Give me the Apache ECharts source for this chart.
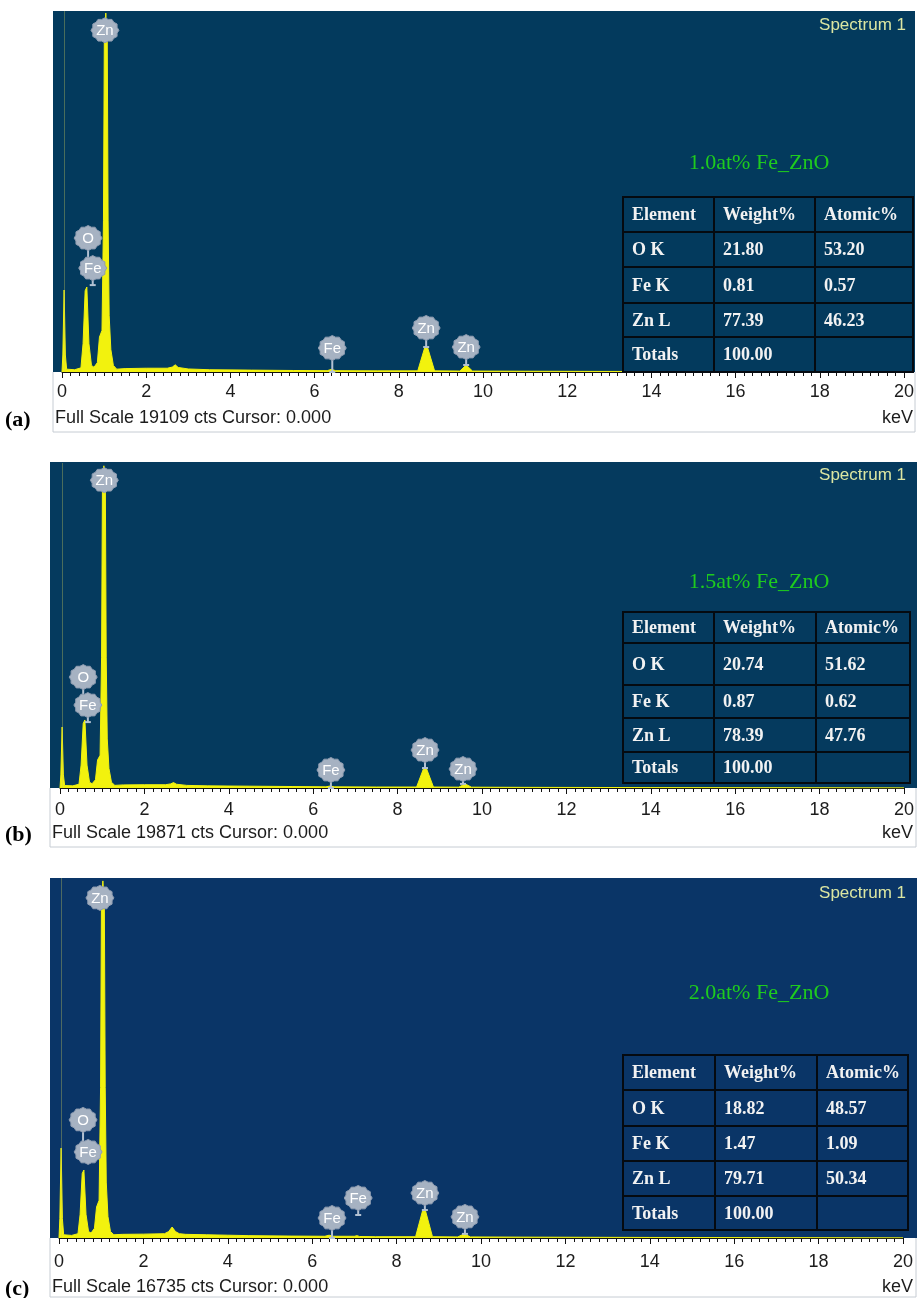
<!DOCTYPE html>
<html>
<head>
<meta charset="utf-8">
<script src="https://cdn.jsdelivr.net/npm/echarts@6/dist/echarts.min.js"></script>
<style>
  html, body { margin: 0; padding: 0; background: #ffffff; }
  #chart { width: 917px; height: 1298px; }
</style>
</head>
<body>
<div id="chart"></div>
<script>
// ---- data ----
const energyTickLabels = ['0', '2', '4', '6', '8', '10', '12', '14', '16', '18', '20'];
const panelTags = ['(a)', '(b)', '(c)'];
const sampleNames = ['1.0at% Fe_ZnO', '1.5at% Fe_ZnO', '2.0at% Fe_ZnO'];
const fullScale = [19109, 19871, 16735];

// EDS spectra: [energy keV, counts]
const spectrumA = [
  [0.00, 0], [0.02, 900], [0.05, 4340], [0.08, 900], [0.11, 150],
  [0.30, 120], [0.45, 220], [0.50, 1500], [0.55, 4300], [0.59, 4500], [0.64, 1500], [0.70, 350],
  [0.76, 250], [0.84, 500], [0.89, 1850], [0.95, 2200], [0.985, 8000], [1.005, 17500],
  [1.04, 19000], [1.075, 17500], [1.095, 8000], [1.12, 3000], [1.16, 1200], [1.22, 350], [1.30, 150],
  [1.50, 180], [2.00, 200], [2.50, 200], [2.62, 260], [2.69, 380], [2.76, 240],
  [3.00, 160], [3.50, 120], [4.50, 100], [5.50, 80], [6.30, 70], [6.40, 140], [6.50, 70],
  [7.50, 60], [8.45, 60], [8.62, 1320], [8.68, 1320], [8.85, 60], [9.45, 50], [9.60, 370], [9.75, 50],
  [11.0, 40], [14.0, 25], [20.0, 10]
];
const spectrumB = [
  [0.00, 0], [0.02, 800], [0.05, 3730], [0.08, 800], [0.11, 150],
  [0.30, 130], [0.45, 230], [0.50, 1400], [0.55, 3950], [0.59, 4160], [0.64, 1400], [0.70, 350],
  [0.76, 260], [0.84, 500], [0.89, 1710], [0.95, 2000], [0.985, 8000], [1.005, 18200],
  [1.04, 19700], [1.075, 18200], [1.095, 8000], [1.12, 3000], [1.16, 1200], [1.22, 350], [1.30, 160],
  [1.50, 190], [2.00, 200], [2.50, 200], [2.62, 250], [2.69, 330], [2.76, 230],
  [3.00, 160], [3.50, 130], [4.50, 110], [5.50, 90], [6.30, 70], [6.40, 120], [6.50, 70],
  [7.50, 60], [8.45, 60], [8.62, 1220], [8.68, 1220], [8.85, 60], [9.45, 50], [9.60, 250], [9.75, 50],
  [11.0, 40], [14.0, 25], [20.0, 10]
];
const spectrumC = [
  [0.00, 0], [0.02, 900], [0.05, 4180], [0.08, 900], [0.11, 150],
  [0.30, 120], [0.45, 200], [0.50, 1100], [0.55, 3000], [0.59, 3160], [0.64, 1100], [0.70, 300],
  [0.76, 230], [0.84, 450], [0.89, 1440], [0.95, 1750], [0.985, 7000], [1.005, 15300],
  [1.04, 16600], [1.075, 15300], [1.095, 7000], [1.12, 2600], [1.16, 1000], [1.22, 300], [1.30, 150],
  [1.50, 170], [2.00, 180], [2.50, 200], [2.60, 300], [2.68, 510], [2.76, 300], [2.85, 200],
  [3.00, 170], [3.50, 150], [4.00, 130], [4.50, 110], [5.50, 90], [6.30, 80], [6.40, 130],
  [6.50, 80], [7.00, 80], [7.06, 110], [7.12, 70], [7.50, 60], [8.45, 60], [8.62, 1300], [8.68, 1300],
  [8.85, 60], [9.45, 50], [9.60, 190], [9.75, 50], [11.0, 40], [14.0, 25], [20.0, 10]
];

// element markers: [energy keV, marker centre counts, stem end counts, symbol]
const markersA = [
  [1.02, 18090, 18090, 'Zn'], [0.62, 7090, 5500, 'O'], [0.73, 5500, 4600, 'Fe'],
  [6.42, 1270, 0, 'Fe'], [8.65, 2330, 1320, 'Zn'], [9.60, 1320, 370, 'Zn']
];
const markersB = [
  [1.05, 18820, 18820, 'Zn'], [0.55, 6780, 5070, 'O'], [0.66, 5070, 4030, 'Fe'],
  [6.42, 1100, 0, 'Fe'], [8.65, 2320, 1220, 'Zn'], [9.55, 1160, 250, 'Zn']
];
const markersC = [
  [0.97, 15810, 15810, 'Zn'], [0.57, 5490, 4000, 'O'], [0.69, 4000, 3490, 'Fe'],
  [6.47, 930, 0, 'Fe'], [7.09, 1860, 1070, 'Fe'], [8.67, 2090, 1300, 'Zn'], [9.62, 980, 190, 'Zn']
];

// quantification tables
const tableHeader = ['Element', 'Weight%', 'Atomic%'];
const tableElements = ['O K', 'Fe K', 'Zn L', 'Totals'];
const weightA = ['21.80', '0.81', '77.39', '100.00'];
const atomicA = ['53.20', '0.57', '46.23', ''];
const weightB = ['20.74', '0.87', '78.39', '100.00'];
const atomicB = ['51.62', '0.62', '47.76', ''];
const weightC = ['18.82', '1.47', '79.71', '100.00'];
const atomicC = ['48.57', '1.09', '50.34', ''];

const spectra = [spectrumA, spectrumB, spectrumC];
const markers = [markersA, markersB, markersC];
const weights = [weightA, weightB, weightC];
const atomics = [atomicA, atomicB, atomicC];

// ---- layout ----
const SANS = '"Liberation Sans", Arial, sans-serif';
const SERIF = '"Liberation Serif", "Times New Roman", serif';
const panels = [
  { left: 62, top: 11, height: 361, bg: [53, 11, 862, 361], bgColor: '#033a5d',
    cols: [623, 714, 815, 913], rows: [197, 232, 267, 303, 337, 372],
    nameY: 163, specY: 25, footY: 418, frame: [53, 432, 915], labelMargin: 11 },
  { left: 60, top: 463, height: 325, bg: [50, 462, 867, 326], bgColor: '#053a5e',
    cols: [623, 714, 816, 910], rows: [612, 643, 685, 718, 752, 783],
    nameY: 582, specY: 475, footY: 833, frame: [50, 847, 916], labelMargin: 13 },
  { left: 59, top: 878, height: 360, bg: [50, 878, 867, 360], bgColor: '#0a3567',
    cols: [623, 715, 817, 908], rows: [1055, 1090, 1126, 1161, 1196, 1230],
    nameY: 993, specY: 893, footY: 1287, frame: [50, 1297, 916], labelMargin: 15 }
];

function markerRenderer(list) {
  return function (params, api) {
    const item = list[params.dataIndex];
    const c = api.coord([api.value(0), api.value(1)]);
    const e = api.coord([api.value(0), api.value(2)]);
    const rx = 14, ry = 12.5;
    const pts = [];
    for (let k = 0; k < 24; k++) {
      const a = k * Math.PI / 12;
      const s = (k % 2) ? 0.9 : 1;
      pts.push([c[0] + Math.cos(a) * rx * s, c[1] + Math.sin(a) * ry * s]);
    }
    const children = [];
    if (e[1] > c[1] + ry) {
      children.push({ type: 'line', shape: { x1: c[0], y1: c[1] + ry - 1, x2: c[0], y2: e[1] },
        style: { stroke: '#b3c1d2', lineWidth: 2 } });
      children.push({ type: 'line', shape: { x1: c[0] - 3, y1: e[1], x2: c[0] + 3, y2: e[1] },
        style: { stroke: '#b3c1d2', lineWidth: 2 } });
    }
    children.push({ type: 'polygon', shape: { points: pts },
      style: { fill: '#a6b2c2', stroke: '#8e9cb1', lineWidth: 1 } });
    children.push({ type: 'text', x: c[0], y: c[1] + 0.5,
      style: { text: item[3], align: 'center', verticalAlign: 'middle',
        fill: '#ffffff', font: '15px ' + SANS } });
    return { type: 'group', children: children };
  };
}

const grids = [], xAxes = [], yAxes = [], series = [], graphics = [];

panels.forEach(function (L, i) {
  grids.push({ left: L.left, top: L.top, width: 844, height: L.height, containLabel: false });
  xAxes.push({
    gridIndex: i, type: 'value', min: 0, max: 20, interval: 2,
    axisLine: { show: true, onZero: false, lineStyle: { color: '#111111', width: 1 } },
    axisTick: { show: true, length: 6, lineStyle: { color: '#111111' } },
    minorTick: { show: true, splitNumber: 10, length: 4, lineStyle: { color: '#111111' } },
    splitLine: { show: false }, minorSplitLine: { show: false },
    axisLabel: { color: '#1c1c1c', fontSize: 18, fontFamily: SANS, margin: L.labelMargin,
      showMinLabel: true, showMaxLabel: true,
      formatter: function (v) { return energyTickLabels[Math.round(v / 2)]; } }
  });
  yAxes.push({ gridIndex: i, type: 'value', min: 0, max: fullScale[i], show: false });

  series.push({
    type: 'line', xAxisIndex: i, yAxisIndex: i, data: spectra[i],
    symbol: 'none', smooth: false, silent: true, z: 3,
    lineStyle: { color: '#f2f20e', width: 1 },
    areaStyle: { color: '#f2f20e', opacity: 1 },
    markLine: { silent: true, symbol: 'none', label: { show: false },
      lineStyle: { color: 'rgba(205,205,90,0.35)', width: 1, type: 'solid' },
      data: [{ xAxis: 0.05 }] }
  });
  series.push({
    type: 'custom', xAxisIndex: i, yAxisIndex: i, silent: true, z: 5, clip: false,
    data: markers[i].map(function (m) { return [m[0], m[1], m[2]]; }),
    renderItem: markerRenderer(markers[i])
  });

  const base = L.top + L.height;
  // plot background
  graphics.push({ type: 'rect', z: -10,
    shape: { x: L.bg[0], y: L.bg[1], width: L.bg[2], height: L.bg[3] },
    style: { fill: L.bgColor } });
  // frame below the spectrum
  graphics.push({ type: 'polyline', z: -5,
    shape: { points: [[L.frame[0], base], [L.frame[0], L.frame[1]], [L.frame[2], L.frame[1]], [L.frame[2], base]] },
    style: { stroke: '#c6ccd3', lineWidth: 1, fill: null } });
  // titles
  graphics.push({ type: 'text', z: 6, x: 906, y: L.specY,
    style: { text: 'Spectrum 1', align: 'right', verticalAlign: 'middle', fill: '#dbe6a2', font: '17px ' + SANS } });
  graphics.push({ type: 'text', z: 6, x: 759, y: L.nameY,
    style: { text: sampleNames[i], align: 'center', verticalAlign: 'middle', fill: '#1ecb1e', font: '22px ' + SERIF } });
  // footer
  graphics.push({ type: 'text', z: 6, x: L.frame[0] + 2, y: L.footY,
    style: { text: 'Full Scale ' + fullScale[i] + ' cts Cursor: 0.000', align: 'left', verticalAlign: 'middle',
      fill: '#1c1c1c', font: '18px ' + SANS } });
  graphics.push({ type: 'text', z: 6, x: 913, y: L.footY,
    style: { text: 'keV', align: 'right', verticalAlign: 'middle', fill: '#1c1c1c', font: '18px ' + SANS } });
  graphics.push({ type: 'text', z: 6, x: 5, y: L.footY + 2,
    style: { text: panelTags[i], align: 'left', verticalAlign: 'middle', fill: '#000000', font: 'bold 22px ' + SERIF } });

  // quantification table
  const rowsText = [tableHeader].concat(tableElements.map(function (el, r) {
    return [el, weights[i][r], atomics[i][r]];
  }));
  for (let r = 0; r < rowsText.length; r++) {
    for (let c = 0; c < 3; c++) {
      const x0 = L.cols[c], x1 = L.cols[c + 1], y0 = L.rows[r], y1 = L.rows[r + 1];
      graphics.push({ type: 'rect', z: 7,
        shape: { x: x0, y: y0, width: x1 - x0, height: y1 - y0 },
        style: { fill: L.bgColor, stroke: '#050a10', lineWidth: 2 } });
      if (rowsText[r][c]) {
        graphics.push({ type: 'text', z: 8, x: x0 + 9, y: (y0 + y1) / 2 + 1,
          style: { text: rowsText[r][c], align: 'left', verticalAlign: 'middle',
            fill: '#f2f2f2', font: 'bold 18px ' + SERIF } });
      }
    }
  }
});

const chart = echarts.init(document.getElementById('chart'), null, { renderer: 'canvas' });
chart.setOption({
  animation: false,
  backgroundColor: '#ffffff',
  grid: grids,
  xAxis: xAxes,
  yAxis: yAxes,
  series: series,
  graphic: { elements: graphics }
});
</script>
</body>
</html>
